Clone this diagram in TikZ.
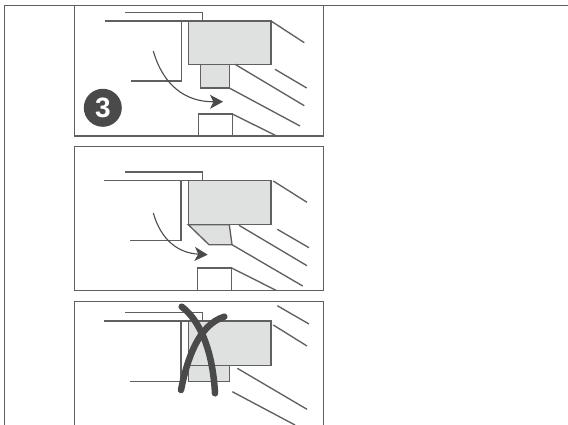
\documentclass[tikz,border=0pt]{standalone}
\usepackage{fontspec}
\setsansfont{Liberation Sans}
\usepackage{xcolor}
\usetikzlibrary{arrows.meta}
\definecolor{inkgray}{HTML}{606060}
\definecolor{darkgray}{HTML}{4A4A4A}
\definecolor{blockgray}{HTML}{DFE1E0}
\tikzset{
  part/.style={draw=inkgray, line width=1.35pt},
  block/.style={part, fill=blockgray},
  turn/.style={draw=darkgray, line width=1.1pt, -{Stealth[length=13pt, width=14pt, inset=3.5pt]}},
  cross/.style={draw=darkgray, line width=6.5pt, line cap=round}
}

\begin{document}
\begin{tikzpicture}[x=1pt, y=-1pt]
\useasboundingbox (0,0) rectangle (568,425);

% Outer table lines
\draw[part] (4.5,425) -- (4.5,5.5) -- (568,5.5);

% Frames
\draw[part] (74.7,5.5) -- (74.7,136) -- (323.3,136) -- (323.3,5.5);
\draw[part] (74.7,146.7) rectangle (323.3,290.3);
\draw[part] (74.7,425) -- (74.7,301.7) -- (323.3,301.7) -- (323.3,425);

% Top panel
\draw[part] (125,12.7) -- (202.5,12.7) -- (202.5,21);
\draw[part] (105,21) -- (188,21);
\draw[part] (181.5,21) -- (181.5,81) -- (130.5,81);
\draw[block] (200.7,64.3) rectangle (229.3,88);
\draw[block] (188.3,21) rectangle (271,64.3);
\foreach \xa/\ya/\xb/\yb in {271/21/304.3/42.7, 275/69.3/306.7/88, 235/64.3/304.3/105.7, 229.3/88/300/126, 232.3/114/276.7/136} {
   \draw[part] (\xa,\ya) -- (\xb,\yb);
}
\draw[part] (198.3,136) -- (198.3,114) -- (232.3,114) -- (232.3,136);
\draw[turn] (153.3,51) .. controls (163,85) and (185,102) .. (223,101.7);
\node[circle, fill=darkgray, minimum size=38pt, inner sep=0pt, text=white, font=\sffamily\bfseries\fontsize{28}{28}\selectfont] (stepthree) at (102.8,107.8) {3};

% Middle panel
\draw[part] (125,172) -- (202.3,172) -- (202.3,180.5);
\draw[part] (104.3,180.7) -- (188.3,180.7);
\draw[part] (181,180.7) -- (181,240.7) -- (130,240.7);
\draw[block] (188.3,224.7) -- (209,244.7) -- (232,244.7) -- (229.3,224.7) -- cycle;
\draw[block] (188.3,180.3) rectangle (271,224.7);
\foreach \xa/\ya/\xb/\yb in {273.3/181/307/202.3, 277.3/229.3/309/247.7, 239/225.3/307/265.7, 232/244.7/302.7/286, 231.7/268/276/290.3} {
   \draw[part] (\xa,\ya) -- (\xb,\yb);
}
\draw[part] (197.7,290.3) -- (197.7,268) -- (231.7,268) -- (231.7,290.3);
\draw[turn] (153.3,213) .. controls (161,240) and (178,253) .. (207.7,254.7);

% Bottom panel
\draw[part] (125,312.7) -- (202.3,312.7) -- (202.3,321);
\draw[part] (104.3,321) -- (188.3,321);
\draw[part] (181,321) -- (181,381.3) -- (130,381.3);
\draw[block] (188.3,365.7) rectangle (229.3,381.7);
\draw[block] (188.3,321) rectangle (271,365.7);
\foreach \xa/\ya/\xb/\yb in {277.3/305.7/309/324, 273.3/325/307/346, 237.3/368.3/307/409.3, 232.3/391.7/295/425} {
   \draw[part] (\xa,\ya) -- (\xb,\yb);
}
\draw[cross] (181.7,306.7) .. controls (202,322) and (213,355) .. (215,393.3);
\draw[cross] (224.3,316.7) .. controls (198,325) and (187,360) .. (181,390);
\end{tikzpicture}
\end{document}
